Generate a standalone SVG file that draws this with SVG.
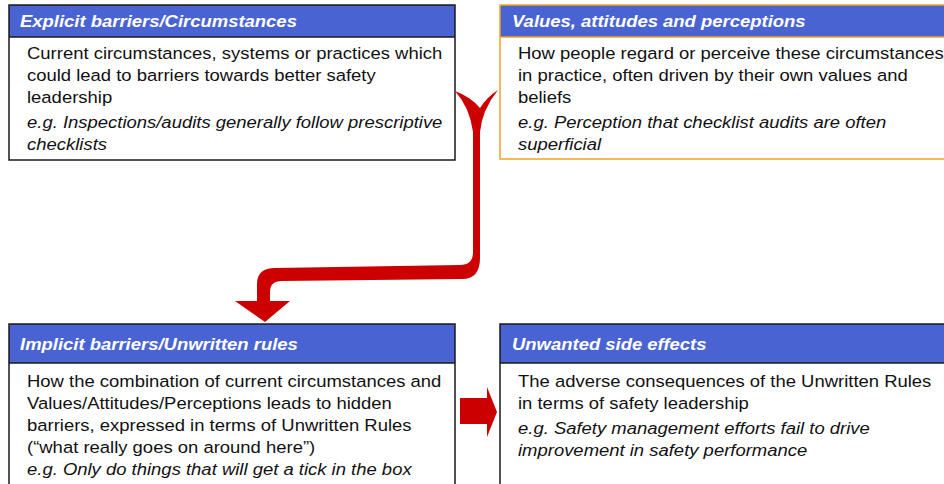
<svg xmlns="http://www.w3.org/2000/svg" width="944" height="484" viewBox="0 0 944 484">
<style>
.hdr{fill:#4A63D3}
.box{fill:#fff}
.bk{stroke:#1a1a1a;stroke-width:1.5;fill:none}
.or{stroke:#F5A31E;stroke-width:1.5;fill:none}
.ht{font-family:"Liberation Sans",Arial,sans-serif;font-size:16.6px;font-weight:bold;font-style:italic;fill:#fff}
.bt{font-family:"Liberation Sans",Arial,sans-serif;font-size:16.6px;fill:#111}
.it{font-style:italic}
.red{fill:#CC0000}
</style>
<g id="explicit">
<rect class="box" x="9" y="5" width="446" height="155"/>
<rect class="hdr" x="9" y="5" width="446" height="32"/>
<line class="bk" x1="9" y1="37" x2="455" y2="37"/>
<rect class="bk" x="9" y="5" width="446" height="155"/>
<g transform="translate(20,0) scale(1.112,1)"><text class="ht" x="0" y="27">Explicit barriers/Circumstances</text></g>
<g transform="translate(27,0) scale(1.112,1)"><text class="bt"><tspan x="0" y="59">Current circumstances, systems or practices which</tspan><tspan x="0" y="81">could lead to barriers towards better safety</tspan><tspan x="0" y="103">leadership</tspan><tspan class="it" x="0" y="128">e.g. Inspections/audits generally follow prescriptive</tspan><tspan class="it" x="0" y="150">checklists</tspan></text></g>
</g>
<g id="values">
<rect class="box" x="500" y="5" width="460" height="154"/>
<rect class="hdr" x="500" y="5" width="460" height="32"/>
<line class="or" x1="500" y1="37" x2="960" y2="37"/>
<rect class="or" x="500" y="5" width="460" height="154"/>
<g transform="translate(512,0) scale(1.112,1)"><text class="ht" x="0" y="27">Values, attitudes and perceptions</text></g>
<g transform="translate(518,0) scale(1.112,1)"><text class="bt"><tspan x="0" y="59">How people regard or perceive these circumstances</tspan><tspan x="0" y="81">in practice, often driven by their own values and</tspan><tspan x="0" y="103">beliefs</tspan><tspan class="it" x="0" y="128">e.g. Perception that checklist audits are often</tspan><tspan class="it" x="0" y="150">superficial</tspan></text></g>
</g>
<g id="implicit">
<rect class="box" x="9" y="324" width="446" height="180"/>
<rect class="hdr" x="9" y="324" width="446" height="39"/>
<line class="bk" x1="9" y1="363" x2="455" y2="363"/>
<rect class="bk" x="9" y="324" width="446" height="180"/>
<g transform="translate(20,0) scale(1.112,1)"><text class="ht" x="0" y="350">Implicit barriers/Unwritten rules</text></g>
<g transform="translate(27,0) scale(1.112,1)"><text class="bt"><tspan x="0" y="387">How the combination of current circumstances and</tspan><tspan x="0" y="409">Values/Attitudes/Perceptions leads to hidden</tspan><tspan x="0" y="431">barriers, expressed in terms of Unwritten Rules</tspan><tspan x="0" y="453">(“what really goes on around here”)</tspan><tspan class="it" x="0" y="475">e.g. Only do things that will get a tick in the box</tspan></text></g>
</g>
<g id="side-effects">
<rect class="box" x="500" y="324" width="460" height="180"/>
<rect class="hdr" x="500" y="324" width="460" height="39"/>
<line class="bk" x1="500" y1="363" x2="960" y2="363"/>
<rect class="bk" x="500" y="324" width="460" height="180"/>
<g transform="translate(512,0) scale(1.112,1)"><text class="ht" x="0" y="350">Unwanted side effects</text></g>
<g transform="translate(518,0) scale(1.112,1)"><text class="bt"><tspan x="0" y="387">The adverse consequences of the Unwritten Rules</tspan><tspan x="0" y="409">in terms of safety leadership</tspan><tspan class="it" x="0" y="434">e.g. Safety management efforts fail to drive</tspan><tspan class="it" x="0" y="456">improvement in safety performance</tspan></text></g>
</g>
<g id="connectors">
<path class="red" d="M455,91 Q471,97 480,108 Q487,97 498,90 Q482,110 480,132 L480,258 Q480,279 462,279 L282,281 Q270,281 270,292 L270,301 L290,301 L265,322 L235,301 L257,301 L257,284 Q257,268 275,268 L460,265 Q473,265 473,252 L473,132 Q470,108 455,91 Z"/>
<path class="red" d="M460,398 L487,398 L487,387 L497,412 L487,437 L487,424 L460,424 Z"/>
</g>
</svg>
